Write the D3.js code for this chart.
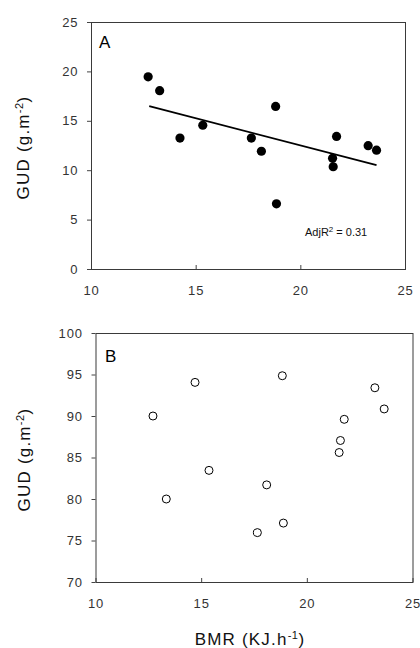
<!DOCTYPE html>
<html lang="en">
<head>
  <meta charset="UTF-8">
  <title>GUD vs BMR</title>
  <script src="https://d3js.org/d3.v7.min.js"></script>
  <style>
    body { margin: 0; background: #fff; }
    svg { display: block; }
    text { font-family: 'Liberation Sans', Arial, sans-serif; }
    .tick text { fill: #333; font-size: 13px; letter-spacing: 0.9px; }
    .tick line { stroke: #444; }
    .title { font-size: 17px; fill: #111; letter-spacing: 1.2px; }
  </style>
</head>
<body>
  <svg width="420" height="648"></svg>

  <script>
    // BMR (KJ.h-1) per individual
    const bmrA = [12.73, 13.28, 14.25, 15.34, 17.66, 18.14, 18.82, 18.86, 21.54, 21.57, 21.73, 23.24, 23.64];
    const gudA = [19.45, 18.05, 13.25, 14.55, 13.25, 11.92, 16.45, 6.6, 11.2, 10.35, 13.42, 12.48, 12.03];
    const fitX = [12.78, 23.64];
    const fitY = [16.49, 10.51];

    const bmrB = [12.72, 13.35, 14.71, 15.37, 17.66, 18.10, 18.84, 18.89, 21.53, 21.59, 21.77, 23.22, 23.66];
    const gudB = [90.0, 80.0, 94.05, 83.45, 75.95, 81.7, 94.85, 77.1, 85.6, 87.05, 89.6, 93.4, 90.85];

    const xTicks = [10, 15, 20, 25];
    const yTicksA = [0, 5, 10, 15, 20, 25];
    const yTicksB = [70, 75, 80, 85, 90, 95, 100];

    const svg = d3.select("svg");

    function panel(opts) {
      const g = svg.append("g").attr("transform", `translate(${opts.left},${opts.top})`);
      const w = opts.width, h = opts.height;
      const x = d3.scaleLinear().domain([10, 25]).range([0, w]);
      const y = d3.scaleLinear().domain(opts.yDomain).range([h, 0]);

      const yAxis = g.append("g")
          .call(d3.axisLeft(y).tickValues(opts.yTicks).tickSize(4).tickPadding(8.5));
      yAxis.select(".domain").remove();

      const xAxis = g.append("g")
          .attr("transform", `translate(0,${h})`)
          .call(d3.axisBottom(x).tickValues(xTicks).tickSize(-4).tickPadding(16.5));
      xAxis.select(".domain").remove();

      g.append("rect")
          .attr("x", 0.5).attr("y", 0.5)
          .attr("width", w).attr("height", h)
          .attr("fill", "none")
          .attr("stroke", "#3a3a3a")
          .attr("stroke-width", 1);

      g.append("text")
          .attr("x", opts.letterX).attr("y", opts.letterY)
          .style("font-size", "17px")
          .attr("fill", "#000")
          .text(opts.letter);

      // y title, rotated
      const t = g.append("text")
          .attr("class", "title")
          .attr("text-anchor", "middle")
          .attr("transform", `translate(${opts.titleX},${h / 2 + 2}) rotate(-90)`);
      t.append("tspan").text("GUD (g.m");
      t.append("tspan").attr("dy", -6).style("font-size", "11px").style("letter-spacing", "0.5px").text("-2");
      t.append("tspan").attr("dy", 6).text(")");

      return { g, x, y, w, h };
    }

    // Panel A
    const A = panel({
      left: 91, top: 22, width: 314, height: 247,
      yDomain: [0, 25], yTicks: yTicksA,
      letter: "A", letterX: 8, letterY: 26, titleX: -62
    });

    A.g.append("line")
        .attr("x1", A.x(fitX[0])).attr("y1", A.y(fitY[0]))
        .attr("x2", A.x(fitX[1])).attr("y2", A.y(fitY[1]))
        .attr("stroke", "#000")
        .attr("stroke-width", 1.8);

    A.g.selectAll("circle.pt")
        .data(bmrA.map((d, i) => [d, gudA[i]]))
        .enter().append("circle")
        .attr("class", "pt")
        .attr("cx", d => A.x(d[0]))
        .attr("cy", d => A.y(d[1]))
        .attr("r", 4.6)
        .attr("fill", "#000");

    A.g.append("text")
        .attr("x", 214).attr("y", 213.5)
        .style("font-size", "11px")
        .attr("fill", "#111")
        .call(t => {
          t.append("tspan").text("AdjR");
          t.append("tspan").attr("dy", -4).style("font-size", "8px").text("2");
          t.append("tspan").attr("dy", 4).text(" = 0.31");
        });

    // Panel B
    const B = panel({
      left: 95.5, top: 333, width: 317, height: 249,
      yDomain: [70, 100], yTicks: yTicksB,
      letter: "B", letterX: 9.5, letterY: 28.5, titleX: -66
    });

    B.g.selectAll("circle.pt")
        .data(bmrB.map((d, i) => [d, gudB[i]]))
        .enter().append("circle")
        .attr("class", "pt")
        .attr("cx", d => B.x(d[0]))
        .attr("cy", d => B.y(d[1]))
        .attr("r", 4)
        .attr("fill", "#fff")
        .attr("stroke", "#000")
        .attr("stroke-width", 1);

    // x title
    const xt = svg.append("text")
        .attr("class", "title")
        .attr("text-anchor", "middle")
        .attr("x", 250).attr("y", 645);
    xt.append("tspan").text("BMR (KJ.h");
    xt.append("tspan").attr("dy", -6).style("font-size", "11px").style("letter-spacing", "0.5px").text("-1");
    xt.append("tspan").attr("dy", 6).text(")");
  </script>
</body>
</html>
